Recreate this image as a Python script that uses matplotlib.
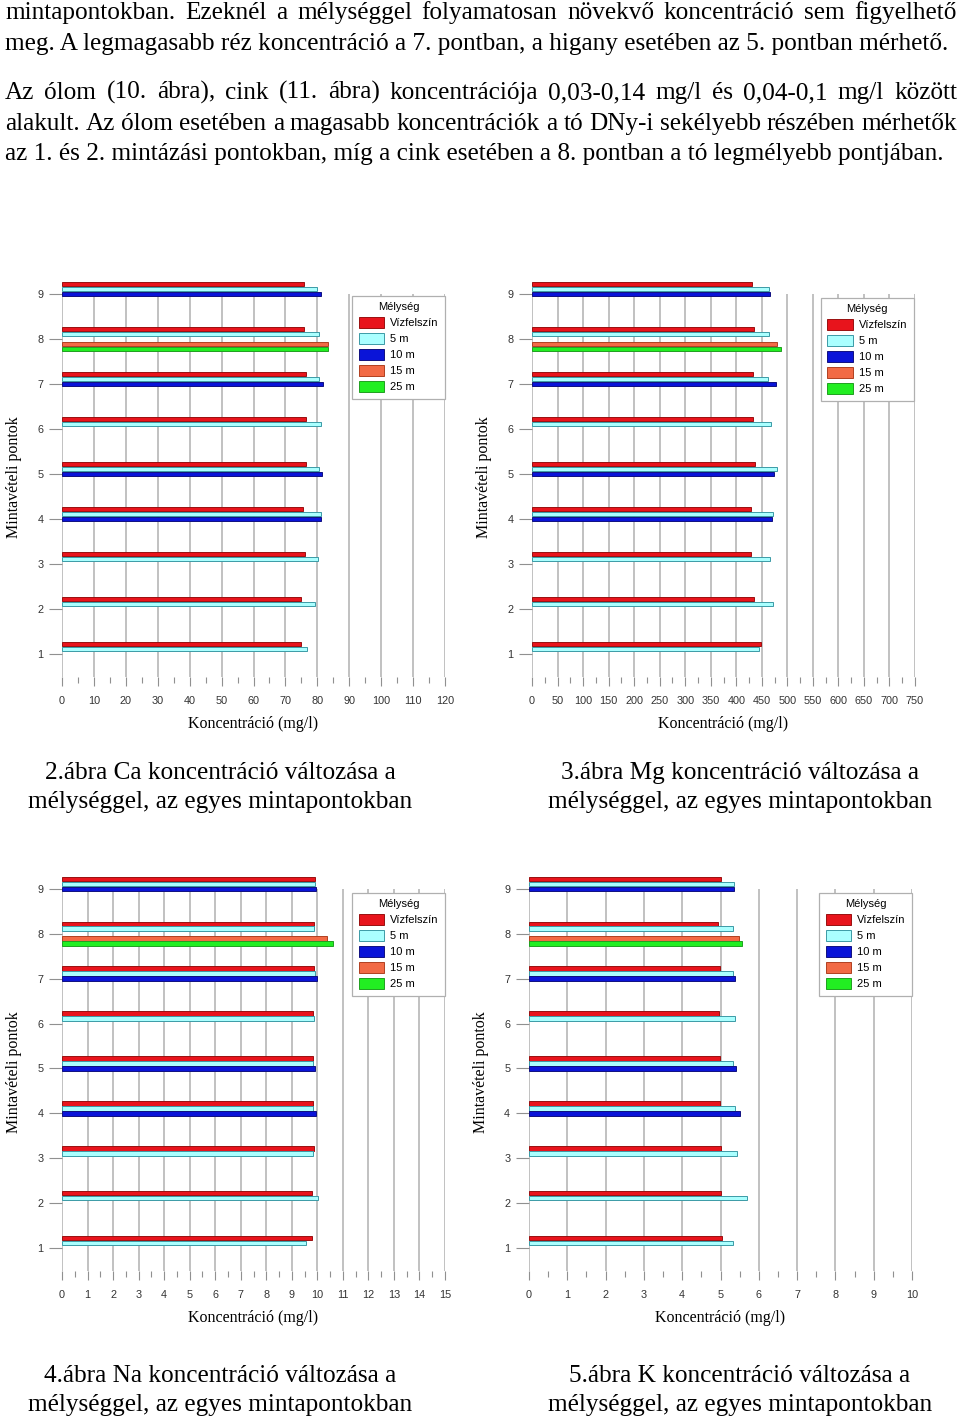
import matplotlib
matplotlib.use("Agg")
import matplotlib.pyplot as plt
import numpy as np
from matplotlib.ticker import MultipleLocator
from matplotlib.patches import Patch

# mintavételi pontok
points = [1, 2, 3, 4, 5, 6, 7, 8, 9]
depths = ["Vízfelszín", "5 m", "10 m", "15 m", "25 m"]
nan = np.nan

# Ca (mg/l)
ca_surf = [75.0, 74.9, 76.1, 75.6, 76.4, 76.4, 76.4, 75.8, 75.9]
ca_5 = [76.9, 79.4, 80.3, 81.0, 80.6, 81.3, 80.6, 80.6, 80.0]
ca_10 = [nan, nan, nan, 81.3, 81.5, nan, 81.7, nan, 81.0]
ca_15 = [nan, nan, nan, nan, nan, nan, nan, 83.4, nan]
ca_25 = [nan, nan, nan, nan, nan, nan, nan, 83.2, nan]

# Mg (mg/l)
mg_surf = [448.4, 434.7, 429.5, 428.2, 436.7, 432.8, 432.8, 435.4, 430.8]
mg_5 = [445.2, 471.9, 466.1, 472.6, 479.8, 468.7, 462.8, 464.1, 464.8]
mg_10 = [nan, nan, nan, 469.3, 473.2, nan, 477.2, nan, 465.4]
mg_15 = [nan, nan, nan, nan, nan, nan, nan, 479.1, nan]
mg_25 = [nan, nan, nan, nan, nan, nan, nan, 487.0, nan]

# Na (mg/l)
na_surf = [9.80, 9.80, 9.88, 9.84, 9.84, 9.84, 9.88, 9.87, 9.92]
na_5 = [9.56, 10.03, 9.84, 9.82, 9.84, 9.88, 9.91, 9.88, 9.90]
na_10 = [nan, nan, nan, 9.93, 9.92, nan, 10.00, nan, 9.95]
na_15 = [nan, nan, nan, nan, nan, nan, nan, 10.39, nan]
na_25 = [nan, nan, nan, nan, nan, nan, nan, 10.60, nan]

# K (mg/l)
k_surf = [5.03, 5.00, 5.00, 4.98, 4.98, 4.95, 4.99, 4.93, 5.00]
k_5 = [5.32, 5.70, 5.43, 5.37, 5.33, 5.37, 5.33, 5.33, 5.35]
k_10 = [nan, nan, nan, 5.51, 5.40, nan, 5.39, nan, 5.35]
k_15 = [nan, nan, nan, nan, nan, nan, nan, 5.47, nan]
k_25 = [nan, nan, nan, nan, nan, nan, nan, 5.56, nan]

colors = ["#e8141c", "#aaffff", "#0a14d8", "#f26a45", "#22ee22"]
edges = ["#9a1010", "#3c9aa6", "#101080", "#b04020", "#20a020"]

W, H = 960, 1420
fig = plt.figure(figsize=(W / 100, H / 100), dpi=100)
fig.patch.set_facecolor("white")
serif = "Liberation Serif"
sans = "Liberation Sans"


def add_chart(x0, x1, ytop, ybot, series, xmax, major, minor, leg_x, leg_y):
    ax = fig.add_axes([x0 / W, 1 - ybot / H, (x1 - x0) / W, (ybot - ytop) / H])
    ylo, yhi = 0.48, 9.36
    ax.set_xlim(0, xmax)
    ax.set_ylim(ylo, yhi)
    for s in ax.spines.values():
        s.set_visible(False)
    ticks = np.arange(0, xmax + major / 2, major)
    ax.vlines(ticks, ylo, 9, color="#b0b0b0", lw=1.1, zorder=0)
    d = 0.111
    offs = [2 * d, d, 0, -d, -2 * d]
    y = np.array(points, dtype=float)
    for vals, off, c, e in zip(series, offs, colors, edges):
        v = np.array(vals, dtype=float)
        m = ~np.isnan(v)
        ax.barh(y[m] + off, v[m], height=0.105, color=c, edgecolor=e, lw=0.7, zorder=2)
    ax.xaxis.set_major_locator(MultipleLocator(major))
    ax.xaxis.set_minor_locator(MultipleLocator(minor))
    ax.set_yticks(points)
    ax.tick_params(axis="x", which="major", length=6.5, width=0.8, color="#909090",
                   pad=7, labelsize=7.8, labelcolor="#333333")
    ax.tick_params(axis="x", which="minor", length=4, width=0.8, color="#909090")
    ax.tick_params(axis="y", length=9.5, width=0.8, color="#909090", pad=4,
                   labelsize=7.8, labelcolor="#333333")
    for lab in ax.get_xticklabels() + ax.get_yticklabels():
        lab.set_fontfamily(sans)
    ax.set_xlabel("Koncentráció (mg/l)", family=serif, fontsize=11.5, labelpad=7)
    ax.set_ylabel("Mintavételi pontok", family=serif, fontsize=11.5, labelpad=11)
    handles = [Patch(facecolor=c, edgecolor=e, lw=0.7) for c, e in zip(colors, edges)]
    leg = ax.legend(handles, depths, title="Mélység", loc="upper left",
                    bbox_to_anchor=(leg_x, leg_y), borderaxespad=0, fancybox=False,
                    edgecolor="#b0b0b0", framealpha=1, prop={"family": sans, "size": 8},
                    title_fontproperties={"family": sans, "size": 8},
                    handlelength=2.3, handleheight=1.15, labelspacing=0.42,
                    handletextpad=0.5, borderpad=0.6)
    leg.get_frame().set_linewidth(0.9)
    leg.set_zorder(5)
    return ax


add_chart(62, 445, 277.8, 677.4, [ca_surf, ca_5, ca_10, ca_15, ca_25], 120, 10, 5, 0.757, 0.955)
add_chart(532, 915, 277.8, 677.4, [mg_surf, mg_5, mg_10, mg_15, mg_25], 750, 50, 25, 0.754, 0.950)
add_chart(62, 445, 872.8, 1271.3, [na_surf, na_5, na_10, na_15, na_25], 15, 1, 0.5, 0.757, 0.95)
add_chart(529, 912, 872.8, 1271.3, [k_surf, k_5, k_10, k_15, k_25], 10, 1, 0.5, 0.757, 0.95)

# szöveg a lap tetején, sorkizárt sorokkal
lines = [
    ("mintapontokban. Ezeknél a mélységgel folyamatosan növekvő koncentráció sem figyelhető", 19, True),
    ("meg. A legmagasabb réz koncentráció a 7. pontban, a higany esetében az 5. pontban mérhető.", 50, False),
    ("Az ólom (10. ábra), cink (11. ábra) koncentrációja 0,03-0,14 mg/l és 0,04-0,1 mg/l között", 99, True),
    ("alakult. Az ólom esetében a magasabb koncentrációk a tó DNy-i sekélyebb részében mérhetők", 130, True),
    ("az 1. és 2. mintázási pontokban, míg a cink esetében a 8. pontban a tó legmélyebb pontjában.", 160, False),
]
captions = [
    ("2.ábra Ca koncentráció változása a", 220, 779),
    ("mélységgel, az egyes mintapontokban", 220, 808),
    ("3.ábra Mg koncentráció változása a", 740, 779),
    ("mélységgel, az egyes mintapontokban", 740, 808),
    ("4.ábra Na koncentráció változása a", 220, 1382),
    ("mélységgel, az egyes mintapontokban", 220, 1411),
    ("5.ábra K koncentráció változása a", 740, 1382),
    ("mélységgel, az egyes mintapontokban", 740, 1411),
]

renderer = fig.canvas.get_renderer()
fs = 18.2
left, right = 5, 957
for text, base, justify in lines:
    if not justify:
        fig.text(left / W, 1 - base / H, text, family=serif, fontsize=fs, va="baseline")
        continue
    words = text.split(" ")
    objs = [fig.text(0, 1 - base / H, w, family=serif, fontsize=fs, va="baseline") for w in words]
    widths = [o.get_window_extent(renderer).width for o in objs]
    gap = (right - left - sum(widths)) / (len(words) - 1)
    x = left
    for o, w in zip(objs, widths):
        o.set_x(x / W)
        x += w + gap

for text, cx, base in captions:
    fig.text(cx / W, 1 - base / H, text, family=serif, fontsize=fs, ha="center", va="baseline")

fig.savefig("out.png", dpi=100)
